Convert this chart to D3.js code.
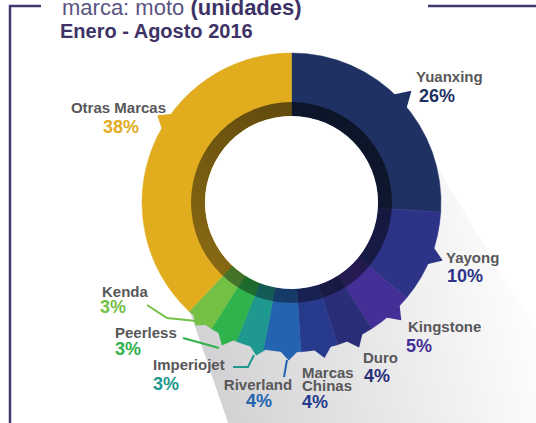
<!DOCTYPE html>
<html lang="es">
<head>
    <meta charset="UTF-8">
    <title>Marca: moto</title>
    <script src="https://cdn.jsdelivr.net/npm/d3@7"></script>
    <style>
        body { margin: 0; background: #fff; }
        svg { display: block; font-family: "Liberation Sans", Arial, sans-serif; }
    </style>
</head>
<body>
<svg width="536" height="423"></svg>

<script>

    // data
    var brands = ["Yuanxing", "Yayong", "Kingstone", "Duro", "Marcas Chinas",
        "Riverland", "Imperiojet", "Peerless", "Kenda", "Otras Marcas"];
    var shares = [26, 10, 5, 4, 4, 4, 3, 3, 3, 38];
    var colors = ["#1e3162", "#2d3386", "#442f96", "#2a2e78", "#283a8c",
        "#2463b0", "#1f988f", "#30b24c", "#73c045", "#e1ad1f"];

    // label layout (name lines, name pos, pct pos, anchor, tab angle in deg, connector)
    var layout = {
        "Yuanxing":      {lines: ["Yuanxing"], nx: 416, ny: 82, px: 419, py: 102, anchor: "start", tab: 47, tip: 164},
        "Yayong":        {lines: ["Yayong"], nx: 446, ny: 263, px: 447, py: 282, anchor: "start", tab: 111, tip: 162},
        "Kingstone":     {lines: ["Kingstone"], nx: 408, ny: 332, px: 406, py: 352, anchor: "start", tab: 137, tip: 161},
        "Duro":          {lines: ["Duro"], nx: 363, ny: 363, px: 364, py: 382, anchor: "start", tab: 155, tip: 160},
        "Marcas Chinas": {lines: ["Marcas", "Chinas"], nx: 302, ny: 378, px: 302, py: 408, anchor: "start", tab: 168, tip: 159},
        "Riverland":     {lines: ["Riverland"], nx: 258, ny: 390, px: 259, py: 407, anchor: "middle", tab: 181, tip: 158,
                          line: [[287, 360], [284, 377]]},
        "Imperiojet":    {lines: ["Imperiojet"], nx: 153, ny: 370, px: 153, py: 390, anchor: "start", tab: 193, tip: 157,
                          line: [[254, 355], [248, 367], [233, 367]]},
        "Peerless":      {lines: ["Peerless"], nx: 115, ny: 338, px: 115, py: 355, anchor: "start", tab: 206, tip: 159,
                          line: [[219, 348], [183, 338]]},
        "Kenda":         {lines: ["Kenda"], nx: 102, ny: 297, px: 100, py: 313, anchor: "start", tab: 218, tip: 156,
                          line: [[196, 321], [167, 318], [147, 305]]},
        "Otras Marcas":  {lines: ["Otras Marcas"], nx: 166, ny: 113, px: 103, py: 133, anchor: "end", tab: 303, tip: 160}
    };

    var svg = d3.select("svg"),
        cx = 291.5, cy = 202.5,
        rOuter = 149.5, rRing = 100.5, rInner = 86.5;

    var defs = svg.append("defs");

    var sg = defs.append("linearGradient")
        .attr("id", "shadowGrad")
        .attr("gradientUnits", "userSpaceOnUse")
        .attr("x1", 210).attr("y1", 340).attr("x2", 530).attr("y2", 260);
    sg.append("stop").attr("offset", 0).attr("stop-color", "#d3d3d5");
    sg.append("stop").attr("offset", 0.45).attr("stop-color", "#e7e7e8");
    sg.append("stop").attr("offset", 1).attr("stop-color", "#ffffff");

    var rg = defs.append("linearGradient")
        .attr("id", "ringGrad")
        .attr("x1", 0.8).attr("y1", 0).attr("x2", 0.2).attr("y2", 1);
    rg.append("stop").attr("offset", 0).attr("stop-color", "#000").attr("stop-opacity", 0.6);
    rg.append("stop").attr("offset", 1).attr("stop-color", "#000").attr("stop-opacity", 0.38);

    /* frame */
    var frame = "#43386f";
    svg.append("path")
        .attr("d", "M10,423 L10,6 L41,6")
        .attr("fill", "none").attr("stroke", frame).attr("stroke-width", 2.5);
    svg.append("line")
        .attr("x1", 428).attr("x2", 536).attr("y1", 6).attr("y2", 6)
        .attr("stroke", frame).attr("stroke-width", 2.5);

    /* title */
    var t1 = svg.append("text").attr("x", 62).attr("y", 15).style("font-size", "22px");
    t1.append("tspan").attr("fill", "#5a5483").text("marca: moto ");
    t1.append("tspan").attr("fill", "#3d3366").attr("font-weight", "bold").text("(unidades)");
    svg.append("text")
        .attr("x", 60).attr("y", 38)
        .attr("fill", "#3d3366")
        .attr("font-weight", "bold")
        .style("font-size", "20px")
        .text("Enero - Agosto 2016");

    /* long shadow */
    var L = 500;
    var pR = [437, 167], dR = [0.52, 0.855],
        pL = [190, 312], dL = [0.325, 0.946];
    svg.append("path")
        .attr("d", d3.line()([
            [cx, cy], pR,
            [pR[0] + L * dR[0], pR[1] + L * dR[1]],
            [pL[0] + L * dL[0], pL[1] + L * dL[1]],
            pL
        ]) + "Z")
        .attr("fill", "url(#shadowGrad)");

    var g = svg.append("g").attr("transform", "translate(" + cx + "," + cy + ")");

    var pie = d3.pie().sort(null).value(function (d) { return d; });
    var arcs = pie(shares);
    var arc = d3.arc().innerRadius(rInner).outerRadius(rOuter);

    function polar(deg, r) {
        var a = deg * Math.PI / 180;
        return [r * Math.sin(a), -r * Math.cos(a)];
    }

    // tabs pointing to labels
    g.selectAll("path.tab")
        .data(arcs)
        .enter().append("path")
        .attr("class", "tab")
        .attr("fill", function (d, i) { return colors[i]; })
        .attr("d", function (d, i) {
            var lo = layout[brands[i]];
            return d3.line()([
                polar(lo.tab - 4, rOuter - 2),
                polar(lo.tab, lo.tip),
                polar(lo.tab + 4, rOuter - 2)
            ]) + "Z";
        });

    g.selectAll("path.slice")
        .data(arcs)
        .enter().append("path")
        .attr("class", "slice")
        .attr("d", arc)
        .attr("fill", function (d, i) { return colors[i]; })
        .attr("stroke", function (d, i) { return colors[i]; })
        .attr("stroke-width", 0.5);

    // darker inner ring
    g.append("path")
        .attr("d", d3.arc()({innerRadius: rInner, outerRadius: rRing, startAngle: 0, endAngle: 2 * Math.PI}))
        .attr("fill", "url(#ringGrad)");
    g.append("circle").attr("r", rInner).attr("fill", "#fff");

    // connector lines
    brands.forEach(function (b, i) {
        var lo = layout[b];
        if (!lo.line) return;
        svg.append("path")
            .attr("d", d3.line()(lo.line))
            .attr("fill", "none")
            .attr("stroke", colors[i])
            .attr("stroke-width", 2);
    });

    // labels
    brands.forEach(function (b, i) {
        var lo = layout[b];
        var name = svg.append("text")
            .attr("text-anchor", lo.anchor)
            .attr("fill", "#58585a")
            .attr("font-weight", "bold")
            .style("font-size", "15px");
        lo.lines.forEach(function (s, j) {
            name.append("tspan").attr("x", lo.nx).attr("y", lo.ny + j * 13).text(s);
        });
        svg.append("text")
            .attr("x", lo.px).attr("y", lo.py)
            .attr("text-anchor", lo.anchor == "end" ? "start" : lo.anchor)
            .attr("fill", colors[i])
            .attr("font-weight", "bold")
            .style("font-size", "18px")
            .text(shares[i] + "%");
    });

</script>
</body>
</html>
